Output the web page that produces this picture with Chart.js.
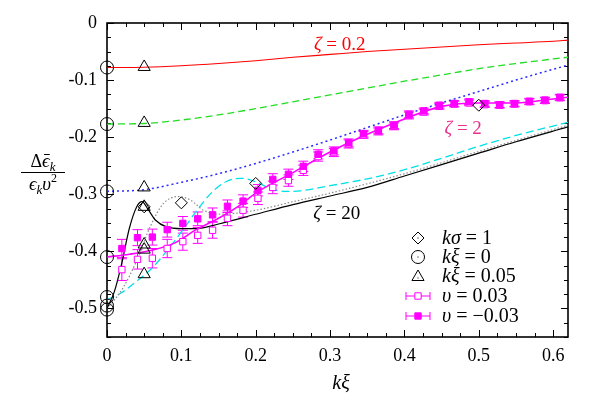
<!DOCTYPE html>
<html>
<head>
<meta charset="utf-8">
<script src="https://cdn.jsdelivr.net/npm/chart.js@4.4.0/dist/chart.umd.min.js"></script>
<style>
  html, body { margin: 0; padding: 0; background: #fff; }
  #wrap { width: 598px; height: 399px; }
</style>
</head>
<body>
<div id="wrap"><canvas id="chart"></canvas></div>
<script>
// simulation data (squares with error bars)
const kxData = [0.020, 0.041, 0.061, 0.081, 0.102, 0.122, 0.142, 0.162, 0.183, 0.203,
                0.223, 0.244, 0.264, 0.284, 0.305, 0.325, 0.345, 0.365, 0.386, 0.406,
                0.426, 0.447, 0.467, 0.487, 0.508, 0.528, 0.548, 0.568, 0.589, 0.609];
const vNeg = [-0.395, -0.376, -0.375, -0.362, -0.351, -0.343, -0.336, -0.321, -0.312, -0.293,
              -0.274, -0.265, -0.251, -0.230, -0.224, -0.210, -0.194, -0.188, -0.179, -0.160,
              -0.154, -0.144, -0.141, -0.138, -0.141, -0.143, -0.141, -0.137, -0.135, -0.130];
const vNegErr = [0.016, 0.014, 0.014, 0.013, 0.012, 0.012, 0.012, 0.011, 0.011, 0.010,
                 0.010, 0.009, 0.009, 0.008, 0.007, 0.007, 0.006, 0.006, 0.006, 0.006,
                 0.005, 0.005, 0.005, 0.005, 0.005, 0.005, 0.005, 0.005, 0.005, 0.005];
const vPos = [-0.432, -0.414, -0.412, -0.395, -0.383, -0.372, -0.363, -0.342, -0.328, -0.307,
              -0.288, -0.276, -0.258, -0.234, -0.227, -0.212, -0.196, -0.190, -0.181, -0.162,
              -0.156, -0.146, -0.142, -0.140, -0.143, -0.144, -0.142, -0.138, -0.136, -0.131];
const vPosErr = [0.019, 0.017, 0.017, 0.016, 0.015, 0.014, 0.014, 0.013, 0.012, 0.011,
                 0.011, 0.010, 0.009, 0.008, 0.007, 0.007, 0.006, 0.006, 0.006, 0.006,
                 0.005, 0.005, 0.005, 0.005, 0.005, 0.005, 0.005, 0.005, 0.005, 0.005];

// theory curves
const gridX = [0, 0.05, 0.1, 0.15, 0.2, 0.25, 0.3, 0.35, 0.4, 0.45, 0.5, 0.55, 0.6, 0.62];
const redY   = [-0.078, -0.0775, -0.075, -0.071, -0.066, -0.060, -0.055, -0.050, -0.046, -0.042, -0.038, -0.035, -0.032, -0.030];
const greenY = [-0.177, -0.176, -0.170, -0.161, -0.150, -0.138, -0.126, -0.114, -0.102, -0.091, -0.080, -0.071, -0.063, -0.060];
const blueY  = [-0.295, -0.292, -0.279, -0.264, -0.246, -0.226, -0.205, -0.183, -0.161, -0.140, -0.120, -0.100, -0.081, -0.074];

const blackX = [0, 0.01, 0.02, 0.03, 0.04, 0.047, 0.055, 0.065, 0.08, 0.1, 0.12, 0.15, 0.2, 0.25, 0.3, 0.35, 0.4, 0.45, 0.5, 0.55, 0.62];
const blackY = [-0.50, -0.47, -0.42, -0.36, -0.322, -0.313, -0.326, -0.345, -0.357, -0.36, -0.36, -0.352, -0.335, -0.318, -0.303, -0.288, -0.268, -0.248, -0.228, -0.208, -0.182];

const grayX = [0, 0.01, 0.022, 0.04, 0.058, 0.076, 0.096, 0.112, 0.13, 0.153, 0.2, 0.25, 0.3, 0.4, 0.5, 0.62];
const grayY = [-0.50, -0.485, -0.463, -0.416, -0.357, -0.316, -0.304, -0.31, -0.328, -0.335, -0.328, -0.313, -0.298, -0.264, -0.225, -0.179];

const cyanX = [0, 0.02, 0.04, 0.06, 0.08, 0.1, 0.12, 0.14, 0.16, 0.18, 0.2, 0.22, 0.24, 0.26, 0.3, 0.35, 0.4, 0.45, 0.5, 0.55, 0.62];
const cyanY = [-0.485, -0.472, -0.452, -0.43, -0.40, -0.366, -0.33, -0.298, -0.278, -0.272, -0.278, -0.29, -0.295, -0.294, -0.285, -0.273, -0.257, -0.237, -0.216, -0.197, -0.174];

const magX = [0, 0.03, 0.06, 0.09, 0.12, 0.15, 0.18, 0.2, 0.25, 0.3, 0.35, 0.4, 0.45, 0.5, 0.55, 0.6, 0.62];
const magY = [-0.41, -0.405, -0.398, -0.386, -0.362, -0.342, -0.318, -0.298, -0.262, -0.226, -0.195, -0.168, -0.146, -0.140, -0.140, -0.133, -0.130];

// point markers
const circleY = [-0.078, -0.177, -0.295, -0.41, -0.48, -0.495, -0.502];   // at k xi = 0
const triY = [-0.077, -0.175, -0.288, -0.322, -0.388, -0.397, -0.44];     // at k xi = 0.05
const diamondX = [0.05, 0.1, 0.2, 0.5];
const diamondY = [-0.322, -0.315, -0.281, -0.144];

const xTicks = ['0', '0.1', '0.2', '0.3', '0.4', '0.5', '0.6'];
const yTicks = ['0', '-0.1', '-0.2', '-0.3', '-0.4', '-0.5'];

const SERIF = 'Liberation Serif';
const MAG = '#ff00ff';

function pts(xs, ys) { return xs.map((x, i) => ({ x: x, y: ys[i] })); }
function atX(x, ys) { return ys.map(y => ({ x: x, y: y })); }

function curve(xs, ys, color, dash, width) {
  return {
    data: pts(xs, ys), showLine: true, pointRadius: 0, borderColor: color,
    borderWidth: width || 1.2, borderDash: dash || [], cubicInterpolationMode: 'monotone', fill: false
  };
}
function marker(data, style, r) {
  return {
    data: data, showLine: false, pointStyle: style, pointRadius: r, borderColor: '#000',
    backgroundColor: 'rgba(0,0,0,0)', borderWidth: 1, clip: false
  };
}

// draw a row of text pieces with mixed italic / sizes
function drawRuns(ctx, parts, x, y, align) {
  let w = 0;
  parts.forEach(p => {
    ctx.font = (p.it ? 'italic ' : '') + (p.size || 19) + 'px ' + SERIF;
    p.w = ctx.measureText(p.t).width;
    w += p.w;
  });
  let cx = align === 'center' ? x - w / 2 : x;
  ctx.textBaseline = 'alphabetic';
  ctx.textAlign = 'left';
  parts.forEach(p => {
    ctx.font = (p.it ? 'italic ' : '') + (p.size || 19) + 'px ' + SERIF;
    ctx.fillText(p.t, cx, y + (p.dy || 0));
    if (p.bar) {
      ctx.save();
      ctx.strokeStyle = ctx.fillStyle;
      ctx.lineWidth = 1;
      ctx.beginPath();
      ctx.moveTo(cx + 2, y - 12.5);
      ctx.lineTo(cx + p.w, y - 12.5);
      ctx.stroke();
      ctx.restore();
    }
    cx += p.w;
  });
}

const framePlugin = {
  id: 'frame',
  beforeDatasetsDraw(chart) {
    const ctx = chart.ctx, a = chart.chartArea;
    const xs = chart.scales.x, ys = chart.scales.y;
    ctx.save();
    ctx.strokeStyle = '#000';
    ctx.lineWidth = 1;
    ctx.beginPath();
    for (let k = 0; k <= 24; k++) {
      const px = Math.round(xs.getPixelForValue(k * 0.025)) + 0.5;
      const len = k % 4 === 0 ? 7 : 4;
      ctx.moveTo(px, a.bottom); ctx.lineTo(px, a.bottom - len);
      ctx.moveTo(px, a.top); ctx.lineTo(px, a.top + len);
    }
    for (let k = 0; k <= 22; k++) {
      const py = Math.round(ys.getPixelForValue(-k * 0.025)) + 0.5;
      const len = k % 4 === 0 ? 7 : 4;
      ctx.moveTo(a.left, py); ctx.lineTo(a.left + len, py);
      ctx.moveTo(a.right, py); ctx.lineTo(a.right - len, py);
    }
    ctx.stroke();
    ctx.lineWidth = 1.6;
    ctx.strokeRect(a.left, a.top, a.right - a.left, a.bottom - a.top);

    // error bars
    ctx.strokeStyle = MAG;
    ctx.lineWidth = 1;
    chart.data.datasets.forEach(ds => {
      if (!ds.errors) return;
      ds.data.forEach((p, j) => {
        const px = xs.getPixelForValue(p.x);
        const y1 = ys.getPixelForValue(p.y + ds.errors[j]);
        const y2 = ys.getPixelForValue(p.y - ds.errors[j]);
        ctx.beginPath();
        ctx.moveTo(px, y1); ctx.lineTo(px, y2);
        ctx.moveTo(px - 5, y1); ctx.lineTo(px + 5, y1);
        ctx.moveTo(px - 5, y2); ctx.lineTo(px + 5, y2);
        ctx.stroke();
      });
    });
    ctx.restore();
  },
  afterDraw(chart) {
    const ctx = chart.ctx;
    const xs = chart.scales.x, ys = chart.scales.y;
    ctx.save();
    // curve labels
    ctx.fillStyle = '#ff0000';
    drawRuns(ctx, [{ t: 'ζ', it: true }, { t: ' = 0.2' }], xs.getPixelForValue(0.313), ys.getPixelForValue(-0.048), 'center');
    ctx.fillStyle = '#e8308c';
    drawRuns(ctx, [{ t: 'ζ', it: true }, { t: ' = 2' }], xs.getPixelForValue(0.479), ys.getPixelForValue(-0.195), 'center');
    ctx.fillStyle = '#000';
    drawRuns(ctx, [{ t: 'ζ', it: true }, { t: ' = 20' }], xs.getPixelForValue(0.309), ys.getPixelForValue(-0.344), 'center');

    // axis titles
    drawRuns(ctx, [{ t: 'kξ', it: true, size: 20 }], 341, 389, 'center');
    drawRuns(ctx, [{ t: 'Δ', size: 18 }, { t: 'ϵ', it: true, size: 19, bar: true }, { t: 'k', it: true, size: 13, dy: 4 }], 43, 167, 'center');
    ctx.lineWidth = 1;
    ctx.strokeStyle = '#000';
    ctx.beginPath(); ctx.moveTo(21, 172.5); ctx.lineTo(65, 172.5); ctx.stroke();
    drawRuns(ctx, [{ t: 'ϵ', it: true, size: 19 }, { t: 'k', it: true, size: 13, dy: 4 }, { t: 'υ', it: true, size: 19 }, { t: '2', size: 12, dy: -8 }], 43, 190, 'center');

    // legend
    const sx = 418, tx = 442;
    const rows = [238, 257, 276, 296, 316];
    const H = Chart.helpers;
    ctx.strokeStyle = '#000';
    ctx.fillStyle = 'rgba(0,0,0,0)';
    ctx.lineWidth = 1;
    H.drawPoint(ctx, { pointStyle: 'rectRot', radius: 6, rotation: 0, borderWidth: 1 }, sx, rows[0]);
    H.drawPoint(ctx, { pointStyle: 'circle', radius: 6.5, rotation: 0, borderWidth: 1 }, sx, rows[1]);
    H.drawPoint(ctx, { pointStyle: 'triangle', radius: 7, rotation: 0, borderWidth: 1 }, sx, rows[2] + 1);
    ctx.fillStyle = '#000';
    [0, 1, 2].forEach(i => ctx.fillRect(sx - 0.5, rows[i] - 0.5 + (i === 2 ? 2 : 0), 1, 1));
    [3, 4].forEach(i => {
      const y = rows[i];
      ctx.strokeStyle = MAG;
      ctx.beginPath();
      ctx.moveTo(sx - 12, y); ctx.lineTo(sx + 12, y);
      ctx.moveTo(sx - 12, y - 4); ctx.lineTo(sx - 12, y + 4);
      ctx.moveTo(sx + 12, y - 4); ctx.lineTo(sx + 12, y + 4);
      ctx.stroke();
      ctx.fillStyle = i === 3 ? '#fff' : MAG;
      H.drawPoint(ctx, { pointStyle: 'rect', radius: 4.5, rotation: 0, borderWidth: 1 }, sx, y);
    });
    ctx.fillStyle = '#000';
    const labels = [
      [{ t: 'kσ', it: true, size: 20 }, { t: ' = 1', size: 20 }],
      [{ t: 'kξ', it: true, size: 20 }, { t: ' = 0', size: 20 }],
      [{ t: 'kξ', it: true, size: 20 }, { t: ' = 0.05', size: 20 }],
      [{ t: 'υ', it: true, size: 20 }, { t: ' = 0.03', size: 20 }],
      [{ t: 'υ', it: true, size: 20 }, { t: ' = −0.03', size: 20 }]
    ];
    labels.forEach((l, i) => drawRuns(ctx, l, tx, rows[i] + 6, 'left'));
    ctx.restore();
  }
};

const tickFmt = list => v => {
  const s = Math.abs(v) < 1e-9 ? '0' : (Math.round(v * 10) / 10).toString();
  return Math.abs(v * 10 - Math.round(v * 10)) < 1e-6 && list.includes(s) ? s : '';
};

const ctx = document.getElementById('chart').getContext('2d');
const chart = new Chart(ctx, {
  type: 'scatter',
  data: {
    datasets: [
      marker(pts(diamondX, diamondY), 'rectRot', 6),
      marker(atX(0, circleY), 'circle', 6.5),
      marker(atX(0.05, triY), 'triangle', 7),
      { data: pts(kxData, vNeg), errors: vNegErr, showLine: false, pointStyle: 'rect', pointRadius: 4.5,
        borderColor: MAG, backgroundColor: MAG, borderWidth: 1 },
      { data: pts(kxData, vPos), errors: vPosErr, showLine: false, pointStyle: 'rect', pointRadius: 4.5,
        borderColor: MAG, backgroundColor: '#fff', borderWidth: 1 },
      curve(magX, magY, MAG, [], 1.6),
      curve(blackX, blackY, '#000', [], 1.2),
      curve(grayX, grayY, '#8a8a8a', [1.5, 2], 1.2),
      curve(cyanX, cyanY, '#00e0e8', [8, 4], 1.3),
      curve(gridX, blueY, '#2a2aff', [2, 3], 1.5),
      curve(gridX, greenY, '#22dd22', [7, 4], 1.3),
      curve(gridX, redY, '#ff0000', [], 1.1)
    ]
  },
  options: {
    responsive: true,
    maintainAspectRatio: false,
    animation: false,
    events: [],
    layout: { padding: { left: 0, right: 30, top: 23, bottom: 0 } },
    plugins: { legend: { display: false }, tooltip: { enabled: false } },
    scales: {
      x: {
        type: 'linear', min: 0, max: 0.62,
        afterFit: s => { s.height = 62; },
        grid: { display: false, drawTicks: false },
        border: { display: false },
        ticks: { stepSize: 0.1, includeBounds: false, padding: 8, color: '#000', maxRotation: 0, autoSkip: false,
                 font: { family: SERIF, size: 18 }, callback: tickFmt(xTicks) }
      },
      y: {
        type: 'linear', min: -0.55, max: 0,
        afterFit: s => { s.width = 107; },
        grid: { display: false, drawTicks: false },
        border: { display: false },
        ticks: { stepSize: 0.1, includeBounds: false, padding: 10, color: '#000', autoSkip: false,
                 font: { family: SERIF, size: 18 }, callback: tickFmt(yTicks) }
      }
    }
  },
  plugins: [framePlugin]
});
</script>
</body>
</html>
